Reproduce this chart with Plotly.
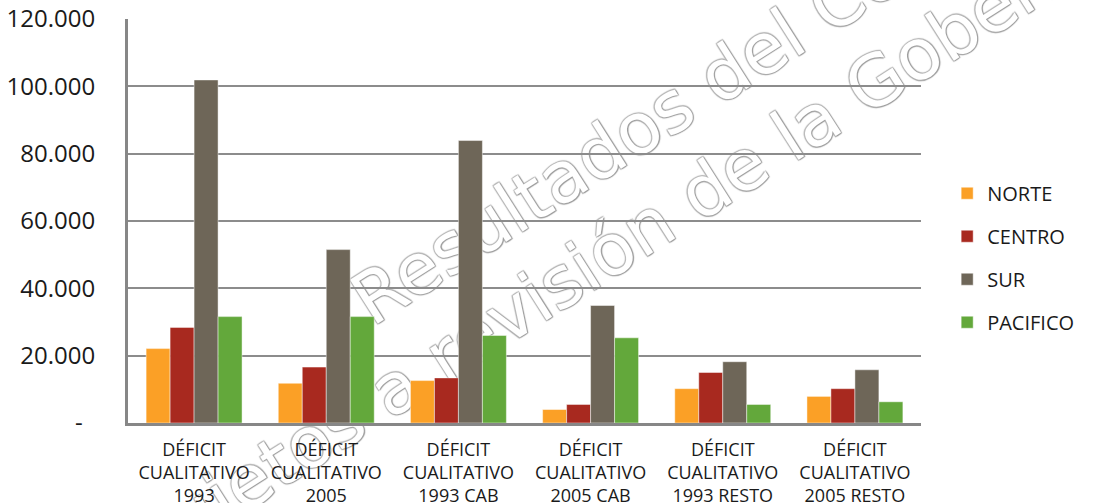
import math
import plotly.graph_objects as go

# Categorías del eje X (tres líneas cada una)
categorias = [
    "DÉFICIT<br>CUALITATIVO<br>1993",
    "DÉFICIT<br>CUALITATIVO<br>2005",
    "DÉFICIT<br>CUALITATIVO<br>1993 CAB",
    "DÉFICIT<br>CUALITATIVO<br>2005 CAB",
    "DÉFICIT<br>CUALITATIVO<br>1993 RESTO",
    "DÉFICIT<br>CUALITATIVO<br>2005 RESTO",
]

# Hogares con déficit cualitativo por región
norte = [22100, 11800, 12600, 4000, 10200, 7900]
centro = [28400, 16600, 13400, 5500, 15000, 10200]
sur = [101900, 51500, 83900, 34900, 18200, 15800]
pacifico = [31600, 31600, 26000, 25300, 5500, 6300]

series = [
    ("NORTE", norte, "#FBA026"),
    ("CENTRO", centro, "#A8291F"),
    ("SUR", sur, "#6E6658"),
    ("PACIFICO", pacifico, "#63A83B"),
]

# Marcas del eje Y
y_ticks = [0, 20000, 40000, 60000, 80000, 100000, 120000]
y_ticktext = ["-\u00a0\u00a0", "20.000", "40.000", "60.000", "80.000", "100.000", "120.000"]

fig = go.Figure()
for nombre, valores, color in series:
    fig.add_trace(go.Bar(
        name=nombre,
        x=categorias,
        y=valores,
        marker=dict(color=color, line=dict(color="rgba(255,255,255,0.45)", width=1)),
        legendgroup=nombre,
    ))

font_family = "Open Sans, DejaVu Sans, sans-serif"

W, H = 1094, 503
M_L, M_R, M_T, M_B = 128, 173, 19, 80
PW, PH = W - M_L - M_R, H - M_T - M_B


def px_to_paper(px, py):
    return (px - M_L) / PW, (H - M_B - py) / PH


fig.update_layout(
    width=W,
    height=H,
    margin=dict(l=M_L, r=M_R, t=M_T, b=M_B, autoexpand=False),
    paper_bgcolor="white",
    plot_bgcolor="white",
    barmode="group",
    bargap=0.274,
    bargroupgap=0,
    font=dict(family=font_family, color="#1a1a1a"),
    showlegend=True,
    legend=dict(
        x=1.033, xanchor="left",
        y=0.617, yanchor="top",
        font=dict(size=20, family=font_family, color="#1a1a1a"),
        tracegroupgap=14,
        traceorder="grouped",
        bgcolor="rgba(0,0,0,0)",
    ),
    xaxis=dict(
        automargin=False,
        showline=True,
        linecolor="#878787",
        linewidth=3,
        ticks="",
        showgrid=False,
        tickfont=dict(size=18, family=font_family, color="#1a1a1a"),
        ticklabelstandoff=8,
    ),
    yaxis=dict(
        automargin=False,
        range=[0, 120000],
        tickvals=y_ticks,
        ticktext=y_ticktext,
        showgrid=True,
        gridcolor="#8c8c8c",
        gridwidth=2,
        showline=True,
        linecolor="#878787",
        linewidth=3,
        zeroline=False,
        ticks="",
        tickfont=dict(size=24, family=font_family, color="#1a1a1a"),
        ticklabelstandoff=25,
    ),
)

# Marca de agua diagonal en relieve, detrás de la cuadrícula y las barras
marca_font = dict(
    size=71,
    family="DejaVu Sans",
    color="rgba(255,255,255,1)",
    shadow=("1px 1px 1px #9c9c9c, -1px -1px 1px #b8b8b8, "
            "1px -1px 1px #b8b8b8, -1px 1px 1px #a8a8a8"),
)
angulo = math.radians(32.5)
ux, uy = math.cos(angulo), -math.sin(angulo)


def marca_agua(texto, cx, cy):
    semi = 300
    x0, y0 = px_to_paper(cx - ux * semi, cy - uy * semi)
    x1, y1 = px_to_paper(cx + ux * semi, cy + uy * semi)
    fig.add_shape(
        type="line",
        xref="paper", yref="paper",
        x0=x0, y0=y0, x1=x1, y1=y1,
        layer="below",
        line=dict(color="rgba(0,0,0,0)", width=1),
        label=dict(
            text=texto,
            textposition="middle",
            yanchor="middle",
            font=marca_font,
        ),
    )


marca_agua("Resultados del Censo", 677, 98)
marca_agua("Sujetos a revisión de la Gobernación", 682, 199)

fig.write_html("out.html")
